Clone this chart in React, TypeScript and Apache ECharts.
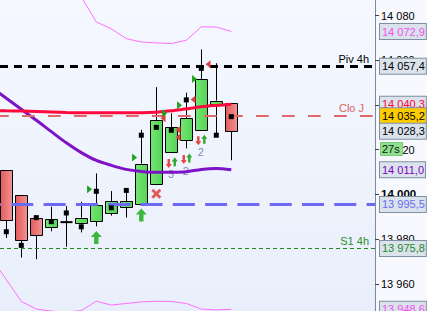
import React, { useEffect, useRef } from 'react';
import * as echarts from 'echarts';

const FONT = '"Liberation Sans", Arial, sans-serif';

// Candles (one per index): open, close, low, high
const candleIndex = [0, 1, 2, 3, 4, 5, 6, 7, 8, 9, 10, 11, 12, 13, 14, 15];
const opens = [14011.1, 13999.6, 13989.6, 13985.5, 13987.6, 13987.3, 13988.2, 13991.5, 13994.3, 13995.7, 14004.7, 14019.0, 14024.5, 14028.9, 14040.6, 14041.1];
const closes = [13988.6, 13979.4, 13982.0, 13988.8, 13987.6, 13989.6, 13995.2, 13997.1, 13997.1, 14013.8, 14033.3, 14030.0, 14034.1, 14051.7, 14042.0, 14028.3];
const lows = [13980.5, 13971.7, 13971.0, 13983.5, 13976.6, 13983.0, 13985.7, 13990.5, 13989.6, 13995.7, 14004.7, 14019.0, 14020.6, 14028.9, 14027.5, 14015.3];
const highs = [14011.1, 13999.6, 13990.5, 13994.5, 13994.8, 13996.7, 14009.4, 14001.5, 14002.7, 14028.9, 14048.0, 14036.3, 14045.5, 14064.9, 14058.7, 14041.1];

// Averages and envelope, starting one bar before the first candle
const lineIndex = [-1, 0, 1, 2, 3, 4, 5, 6, 7, 8, 9, 10, 11, 12, 13, 14, 15];
const maFast = [14037.5, 14037.4, 14037.3, 14037.1, 14036.9, 14036.7, 14036.6, 14036.6, 14036.6, 14036.6, 14036.6, 14036.8, 14037.4, 14038.3, 14039.2, 14039.8, 14040.3];
const maSlow = [14048.0, 14043.0, 14038.1, 14033.2, 14028.1, 14023.1, 14018.7, 14015.2, 14013.0, 14011.2, 14010.3, 14009.9, 14009.9, 14010.1, 14011.2, 14011.6, 14011.0];
const bandUpper = [14112, 14114, 14113, 14110, 14106, 14100, 14088.4, 14077.2, 14074.1, 14069.7, 14068.2, 14067.8, 14067.5, 14069.0, 14075.0, 14074.9, 14072.9];
const bandLower = [13971.5, 13961.9, 13952.1, 13948.7, 13947.8, 13947.4, 13948.0, 13952.2, 13950.5, 13951.2, 13951.9, 13952.2, 13952.1, 13951.2, 13948.7, 13948.3, 13948.6];

// Horizontal levels
const pivot4h = 14057.4;
const closeDaily = 14035.2;
const lastPrice = 14028.3;
const blueLevel = 13995.5;
const support4h = 13975.8;
const countdownText = '27s';

// Signal markers: [index, price]
const squareMarks = [[0, 13983.3], [1, 13977.2], [2, 13989.6], [3, 13987.8], [4, 13991.7], [5, 13985.5], [6, 14001.4], [7, 13994.0], [8, 14001.8], [9, 14026.5], [10, 14030.0], [11, 14028.7], [12, 14042.3], [13, 14056.4], [14, 14026.5], [15, 14034.8]];
const buyTriangles = [[5.55, 14002.3], [8.55, 14016.5], [10.55, 14036.3], [11.55, 14039.9], [12.55, 14051.7]];
const sellTriangles = [[10.45, 14034.1], [11.45, 14028.9], [11.45, 14025.6], [12.45, 14042.5], [13.45, 14058.3]];
const smallDownArrows = [[10.83, 14013.8], [11.83, 14015.6], [12.8, 14024.0]];
const smallUpArrows = [[11.23, 14014.6], [12.2, 14016.3], [13.2, 14024.7]];
const bigUpArrows = [[6, 13980.7], [9, 13990.8]];
const crossMarks = [[10, 14000.3]];
const countLabels = [[10.98, 14009.1, 3], [11.96, 14010.6, 2], [12.96, 14019.1, 2]];

const ARROW_UP = 'path://M5,0 L10,5 L7,5 L7,11 L3,11 L3,5 L0,5 Z';
const ARROW_DOWN = 'path://M3,0 L7,0 L7,6 L10,6 L5,11 L0,6 L3,6 Z';
const TRI_RIGHT = 'path://M0,0 L9,5 L0,10 Z';
const TRI_LEFT = 'path://M9,0 L0,5 L9,10 Z';
const CROSS = 'path://M2,0 L5,3 L8,0 L10,2 L7,5 L10,8 L8,10 L5,7 L2,10 L0,8 L3,5 L0,2 Z';

const fmtPrice = (v: number) => {
  const th = Math.floor(v / 1000);
  const rest = (v - th * 1000).toFixed(1).padStart(5, '0').replace('.', ',');
  return `${th} ${rest}`;
};

const fmtTick = (v: number) => {
  const th = Math.floor(v / 1000);
  return `${th} ${String(Math.round(v - th * 1000)).padStart(3, '0')}`;
};

const zip = (xs: number[], ys: number[]) => xs.map((x, k) => [x, ys[k]]);

const valueBox = (v: number, color: string, bg = '#DAE2EC') => ({
  yAxis: v,
  lineStyle: { color: 'rgba(0,0,0,0)', width: 1, opacity: 1 },
  label: {
    show: true,
    position: 'end',
    distance: 5,
    formatter: fmtPrice(v),
    color,
    opacity: 1,
    backgroundColor: bg,
    borderColor: '#8090A0',
    borderWidth: 1,
    padding: [2, 1, 1, 2],
    fontSize: 11,
    lineHeight: 12,
    fontFamily: FONT,
  },
});

const App: React.FC = () => {
  const ref = useRef<HTMLDivElement>(null);

  useEffect(() => {
    if (!ref.current) return;
    const chart = echarts.init(ref.current, undefined, { renderer: 'svg' });

    const greenFill = new echarts.graphic.LinearGradient(0, 0, 1, 0, [
      { offset: 0, color: '#74E474' },
      { offset: 1, color: '#56D456' },
    ]);
    const redFill = new echarts.graphic.LinearGradient(0, 0, 1, 0, [
      { offset: 0, color: '#E35B5B' },
      { offset: 1, color: '#F29494' },
    ]);

    const candleData = candleIndex.map((i, k) => [i, opens[k], closes[k], lows[k], highs[k]]);

    const markerSeries = (data: number[][], symbol: string, size: number[], color: string, z = 6) => ({
      type: 'scatter',
      data,
      symbol,
      symbolSize: size,
      itemStyle: { color, opacity: 1 },
      silent: true,
      z,
    });

    chart.setOption({
      animation: false,
      backgroundColor: '#F7F9FE',
      textStyle: { fontFamily: FONT },
      grid: {
        left: 0,
        right: 52,
        top: 0,
        bottom: 0,
        show: true,
        borderWidth: 0,
        backgroundColor: new echarts.graphic.LinearGradient(0, 0, 0, 1, [
          { offset: 0, color: '#F5F8FF' },
          { offset: 1, color: '#E8EEFB' },
        ]),
      },
      xAxis: {
        type: 'value',
        min: -0.42,
        max: 24.58,
        show: false,
        axisLine: { show: false, onZero: false },
        splitLine: { show: false },
      },
      yAxis: {
        type: 'value',
        position: 'right',
        min: 13940,
        max: 14087,
        interval: 20,
        axisLine: { show: true, onZero: false, lineStyle: { color: '#7D8A97', width: 1 } },
        axisTick: { show: true, length: 4, lineStyle: { color: '#444' } },
        splitLine: { show: false },
        axisLabel: {
          margin: 6,
          fontSize: 11,
          color: '#000',
          fontFamily: FONT,
          showMaxLabel: false,
          formatter: (v: number) => {
            if (Math.round(v) % 20 !== 0) return '';
            return v === 14000 ? `{b|${fmtTick(v)}}` : fmtTick(v);
          },
          rich: { b: { fontWeight: 'bold', fontSize: 11.5, color: '#000', fontFamily: FONT } },
        },
      },
      series: [
        {
          name: 'Upper band',
          type: 'line',
          data: zip(lineIndex, bandUpper),
          showSymbol: false,
          lineStyle: { color: '#FF6EFF', width: 1 },
          silent: true,
          z: 1,
        },
        {
          name: 'Lower band',
          type: 'line',
          data: zip(lineIndex, bandLower),
          showSymbol: false,
          lineStyle: { color: '#FF6EFF', width: 1 },
          silent: true,
          z: 1,
          markLine: {
            silent: true,
            symbol: ['none', 'none'],
            data: [
              {
                yAxis: pivot4h,
                lineStyle: { color: '#000', width: 3, type: [8, 6], dashOffset: 0 },
                label: { show: true, position: 'insideEndTop', distance: [6, 2], formatter: 'Piv 4h', color: '#000', fontSize: 11, fontFamily: FONT },
              },
              {
                yAxis: closeDaily,
                lineStyle: { color: '#E06868', width: 2, type: [12.7, 13.3], dashOffset: 4.4 },
                label: { show: true, position: 'insideEndTop', distance: [11, 2], formatter: 'Clo J', color: '#E06060', fontSize: 11, fontFamily: FONT },
              },
              {
                yAxis: support4h,
                lineStyle: { color: '#1E8C1E', width: 1, type: [4, 3] },
                label: { show: true, position: 'insideEndTop', distance: [6, 2], formatter: 'S1 4h', color: '#2E8F2E', fontSize: 11, fontFamily: FONT },
              },
            ],
          },
        },
        {
          name: 'Candles',
          type: 'custom',
          data: candleData,
          encode: { x: 0, y: [1, 2, 3, 4] },
          silent: true,
          z: 2,
          renderItem: (_params: any, api: any) => {
            const i = api.value(0);
            const o = api.value(1);
            const c = api.value(2);
            const l = api.value(3);
            const h = api.value(4);
            const pO = api.coord([i, o]);
            const yC = api.coord([i, c])[1];
            const yL = api.coord([i, l])[1];
            const yH = api.coord([i, h])[1];
            const w = api.size([0.847, 0])[0];
            const left = Math.round(pO[0] - w / 2) + 0.5;
            const right = Math.round(pO[0] + w / 2) - 0.5;
            const xm = Math.round(pO[0]) + 0.5;
            const yTop = Math.min(pO[1], yC);
            const yBot = Math.max(pO[1], yC);
            const children: any[] = [];
            if (yH < yTop - 0.5) {
              children.push({ type: 'line', shape: { x1: xm, y1: yH, x2: xm, y2: yTop }, style: { stroke: '#000', lineWidth: 1 } });
            }
            if (yL > yBot + 0.5) {
              children.push({ type: 'line', shape: { x1: xm, y1: yBot, x2: xm, y2: yL }, style: { stroke: '#000', lineWidth: 1 } });
            }
            if (o === c) {
              children.push({ type: 'line', shape: { x1: left, y1: pO[1], x2: right, y2: pO[1] }, style: { stroke: '#000', lineWidth: 2 } });
            } else {
              const top = Math.round(yTop) + 0.5;
              const bot = Math.round(yBot) + 0.5;
              children.push({
                type: 'rect',
                shape: { x: left, y: top, width: right - left, height: bot - top },
                style: { fill: c > o ? greenFill : redFill, stroke: '#000', lineWidth: 1 },
              });
            }
            return { type: 'group', children };
          },
        },
        {
          name: 'Counts',
          type: 'scatter',
          data: countLabels,
          symbolSize: 0,
          silent: true,
          z: 3,
          label: {
            show: true,
            position: 'inside',
            formatter: (p: any) => String(p.value[2]),
            color: '#5A6AAA',
            fontSize: 11,
            fontFamily: FONT,
          },
        },
        {
          name: 'Slow average',
          type: 'line',
          data: zip(lineIndex, maSlow),
          showSymbol: false,
          smooth: 0.3,
          lineStyle: { color: '#7E12C6', width: 3 },
          silent: true,
          z: 4,
          markLine: {
            silent: true,
            symbol: ['none', 'none'],
            data: [
              {
                yAxis: blueLevel,
                lineStyle: { color: '#6A6AF2', width: 3, type: [22, 10.3], dashOffset: 21 },
                label: { show: false },
              },
            ],
          },
        },
        {
          name: 'Fast average',
          type: 'line',
          data: zip(lineIndex, maFast),
          showSymbol: false,
          smooth: 0.3,
          lineStyle: { color: '#FF0A3C', width: 3 },
          silent: true,
          z: 4,
          markLine: {
            silent: true,
            symbol: ['none', 'none'],
            data: [
              valueBox(bandUpper[bandUpper.length - 1], '#F050F0'),
              valueBox(pivot4h, '#000'),
              valueBox(maFast[maFast.length - 1], '#FF0033'),
              valueBox(closeDaily, '#000', '#FFCC00'),
              valueBox(lastPrice, '#000'),
              valueBox(maSlow[maSlow.length - 1], '#8000C0'),
              valueBox(blueLevel, '#6A6AF0'),
              valueBox(support4h, '#1E8C1E'),
              valueBox(bandLower[bandLower.length - 1], '#F050F0'),
            ],
          },
        },
        markerSeries(squareMarks, 'rect', [5, 5], '#000'),
        markerSeries(buyTriangles, TRI_RIGHT, [5, 8], '#1FA31F'),
        markerSeries(sellTriangles, TRI_LEFT, [5, 8], '#DA4444'),
        markerSeries(smallDownArrows, ARROW_DOWN, [6, 9], '#E24646'),
        markerSeries(smallUpArrows, ARROW_UP, [6, 9], '#2EAA2E'),
        markerSeries(bigUpArrows, ARROW_UP, [11, 13], '#3CB83C'),
        markerSeries(crossMarks, CROSS, [10, 10], '#E05858'),
      ],
      graphic: [
        {
          type: 'rect',
          left: 380,
          top: 142,
          z: 100,
          shape: { width: 22, height: 13 },
          style: { fill: '#8EE08E', stroke: '#7ACB7A', lineWidth: 1 },
        },
        {
          type: 'text',
          left: 382,
          top: 143,
          z: 101,
          style: { text: countdownText, fill: '#111', font: `11px ${FONT}` },
        },
      ],
    });

    return () => chart.dispose();
  }, []);

  return (
    <div style={{ position: 'fixed', left: 0, top: 0, width: 427, height: 311, overflow: 'hidden' }}>
      <div ref={ref} style={{ width: 427, height: 334 }} />
    </div>
  );
};

export default App;
